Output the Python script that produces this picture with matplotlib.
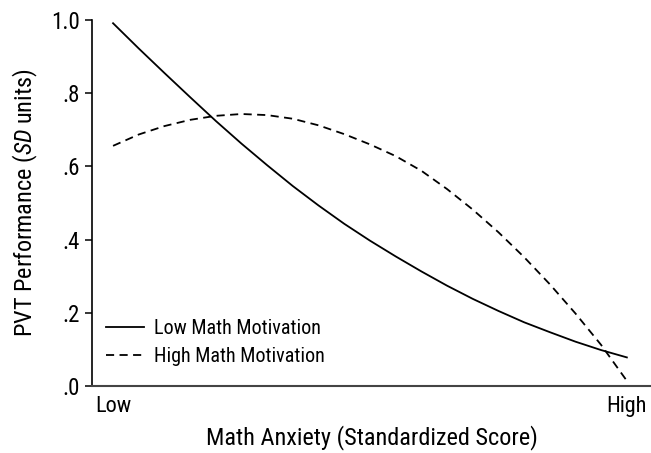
import matplotlib
matplotlib.use("Agg")
import matplotlib.pyplot as plt

# anxiety levels from Low (0) to High (1)
anxiety = [0.00, 0.05, 0.10, 0.15, 0.20, 0.25, 0.30, 0.35, 0.40, 0.45, 0.50,
           0.55, 0.60, 0.65, 0.70, 0.75, 0.80, 0.85, 0.90, 0.95, 1.00]
low_motivation = [0.991, 0.922, 0.855, 0.789, 0.724, 0.662, 0.603, 0.546, 0.493, 0.443, 0.397,
                  0.354, 0.313, 0.274, 0.238, 0.205, 0.174, 0.147, 0.121, 0.098, 0.078]
high_motivation = [0.656, 0.687, 0.710, 0.727, 0.738, 0.743, 0.740, 0.730, 0.712, 0.688, 0.660,
                   0.628, 0.588, 0.538, 0.482, 0.420, 0.352, 0.278, 0.198, 0.112, 0.014]

y_ticks = [0.0, 0.2, 0.4, 0.6, 0.8, 1.0]
y_labels = ['.0', '.2', '.4', '.6', '.8', '1.0']
x_ticks = [0, 1]
x_labels = ['Low', 'High']

font = 'Roboto Condensed'
plt.rcParams['font.family'] = [font, 'DejaVu Sans']
plt.rcParams['mathtext.fontset'] = 'custom'
plt.rcParams['mathtext.rm'] = font
plt.rcParams['mathtext.it'] = font + ':italic'

fig = plt.figure(figsize=(6.51, 4.53), dpi=100)
ax = fig.add_axes([0.1413, 0.148, 0.8587, 0.808])

ax.plot(anxiety, low_motivation, color='black', linewidth=1.3, label='Low Math Motivation')
ax.plot(anxiety, high_motivation, color='black', linewidth=1.3, dashes=(4.5, 3),
        label='High Math Motivation')

ax.set_xlim(-0.041, 1.047)
ax.set_ylim(0, 1.0)
ax.set_yticks(y_ticks)
ax.set_yticklabels(y_labels)
ax.set_xticks(x_ticks)
ax.set_xticklabels(x_labels)

ax.spines['top'].set_visible(False)
ax.spines['right'].set_visible(False)
ax.spines['left'].set_linewidth(1.2)
ax.spines['bottom'].set_linewidth(1.5)
ax.spines['bottom'].set_color('#444444')
ax.tick_params(axis='y', length=5, width=1.1, labelsize=16.5, pad=4)
ax.tick_params(axis='x', length=0, labelsize=16, pad=7)

ax.set_xlabel('Math Anxiety (Standardized Score)', fontsize=17.5, labelpad=6)
ax.set_ylabel(r'PVT Performance ($\mathit{SD}$ units)', fontsize=17.5, labelpad=8)

ax.legend(loc='lower left', bbox_to_anchor=(0.0, 0.015), frameon=False, fontsize=14.5,
          handlelength=1.9, handletextpad=0.5, labelspacing=0.45, borderaxespad=0.3)

fig.savefig('out.png', dpi=100)
